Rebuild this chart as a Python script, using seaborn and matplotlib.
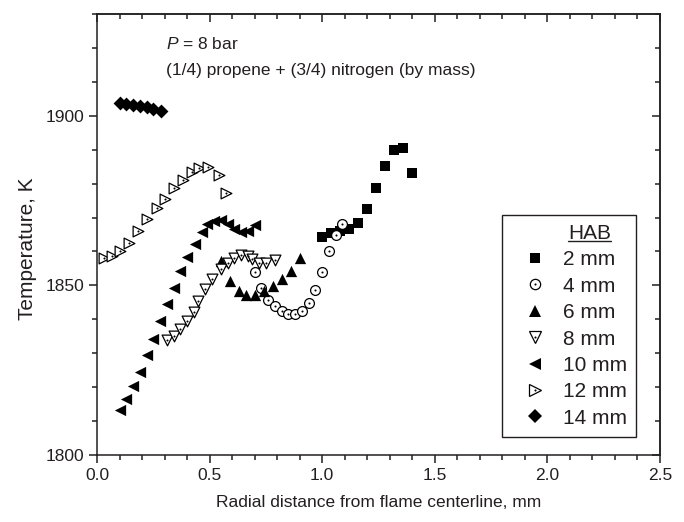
import numpy as np
import pandas as pd
import matplotlib
matplotlib.use("Agg")
import matplotlib.pyplot as plt
import seaborn as sns
from matplotlib.lines import Line2D
from matplotlib.legend_handler import HandlerTuple
from matplotlib.ticker import MultipleLocator, FormatStrFormatter

# ---------------- data ----------------
x_2mm = [1.00, 1.04, 1.08, 1.12, 1.16, 1.20, 1.24, 1.28, 1.32, 1.36, 1.40]
T_2mm = [1864.4, 1865.4, 1866.1, 1866.6, 1868.5, 1872.5, 1878.6, 1885.1, 1889.8, 1890.4, 1883.2]

x_4mm = [0.70, 0.73, 0.76, 0.79, 0.82, 0.85, 0.88, 0.91, 0.94, 0.97, 1.00, 1.03, 1.06, 1.09]
T_4mm = [1853.9, 1849.3, 1845.7, 1843.9, 1842.4, 1841.6, 1841.6, 1842.4, 1844.7, 1848.6,
         1853.9, 1860.1, 1864.9, 1868.0]

x_6mm = [0.55, 0.59, 0.63, 0.66, 0.70, 0.74, 0.78, 0.82, 0.86, 0.90]
T_6mm = [1857.2, 1851.3, 1848.3, 1847.3, 1847.3, 1848.3, 1849.8, 1851.8, 1854.2, 1858.2]

x_8mm = [0.31, 0.34, 0.37, 0.40, 0.43, 0.45, 0.48, 0.51, 0.55, 0.58, 0.61, 0.64, 0.67,
         0.69, 0.72, 0.75, 0.79]
T_8mm = [1834.0, 1835.0, 1837.0, 1839.4, 1842.1, 1845.4, 1848.8, 1852.0, 1854.7, 1856.7,
         1858.2, 1858.9, 1858.7, 1857.7, 1856.7, 1856.5, 1857.5]

x_10mm = [0.10, 0.13, 0.16, 0.19, 0.22, 0.25, 0.28, 0.31, 0.34, 0.37, 0.40, 0.435, 0.465,
          0.49, 0.52, 0.55, 0.58, 0.61, 0.64, 0.67, 0.70]
T_10mm = [1813.3, 1816.5, 1820.4, 1824.6, 1829.4, 1834.3, 1839.4, 1844.4, 1849.3, 1854.2,
          1858.5, 1862.3, 1865.6, 1868.0, 1869.0, 1869.3, 1868.0, 1866.6, 1865.6, 1866.1, 1867.8]

x_12mm = [0.03, 0.065, 0.10, 0.14, 0.18, 0.22, 0.265, 0.30, 0.34, 0.38, 0.42, 0.455, 0.495,
          0.54, 0.575]
T_12mm = [1858.2, 1858.7, 1860.1, 1862.6, 1866.1, 1869.5, 1872.7, 1875.6, 1878.6, 1881.2,
          1883.3, 1884.5, 1884.8, 1882.5, 1877.2]

x_14mm = [0.10, 0.13, 0.16, 0.19, 0.22, 0.25, 0.285]
T_14mm = [1903.8, 1903.6, 1903.3, 1902.9, 1902.6, 1902.1, 1901.3]

labels = ["2 mm", "4 mm", "6 mm", "8 mm", "10 mm", "12 mm", "14 mm"]
xs = [x_2mm, x_4mm, x_6mm, x_8mm, x_10mm, x_12mm, x_14mm]
Ts = [T_2mm, T_4mm, T_6mm, T_8mm, T_10mm, T_12mm, T_14mm]

x_major_ticks = [0.0, 0.5, 1.0, 1.5, 2.0, 2.5]
y_major_ticks = [1800, 1850, 1900]

# ---------------- style ----------------
sns.set_theme(style="ticks")
plt.rcParams["font.family"] = ["Liberation Sans", "DejaVu Sans"]
plt.rcParams["mathtext.fontset"] = "custom"
plt.rcParams["mathtext.rm"] = "Liberation Sans"
plt.rcParams["mathtext.it"] = "Liberation Sans:italic"
TXT = "#231f20"
FS = 12.5      # tick labels, x label, annotation
FS_BIG = 15    # y label and legend

markers = ["s", "o", "^", "v", "<", ">", "D"]
filled = [True, False, True, False, True, False, True]
sizes = [44, 50, 66, 60, 66, 60, 50]

fig = plt.figure(figsize=(6.84, 5.22), dpi=100)
ax = fig.add_axes([97 / 684, 1 - 455 / 522, 563 / 684, 441 / 522])

for lab, x, T, m, f, s in zip(labels, xs, Ts, markers, filled, sizes):
    df = pd.DataFrame({"r": x, "T": T})
    sns.scatterplot(data=df, x="r", y="T", ax=ax, marker=m, s=s,
                    color="black" if f else "white",
                    edgecolor="black", linewidth=0.9 if not f else 0.0,
                    zorder=3)
    if not f:
        sns.scatterplot(data=df, x="r", y="T", ax=ax, marker="o", s=2.2,
                        color="black", linewidth=0, zorder=4)

ax.set_xlim(0, 2.5)
ax.set_ylim(1800, 1930)
ax.xaxis.set_minor_locator(MultipleLocator(0.1))
ax.yaxis.set_minor_locator(MultipleLocator(10))
ax.set_xticks(x_major_ticks)
ax.set_yticks(y_major_ticks)
ax.xaxis.set_major_formatter(FormatStrFormatter("%.1f"))

for sp in ax.spines.values():
    sp.set_linewidth(1.1)
    sp.set_color(TXT)

ax.tick_params(which="major", direction="out", length=6, width=1.1, color=TXT,
               labelsize=FS, labelcolor=TXT, pad=3)
ax.tick_params(which="minor", direction="out", length=3.5, width=1.1, color=TXT)

# inward ticks on top and right
sec_x = ax.secondary_xaxis("top")
sec_x.set_xticks(x_major_ticks)
sec_x.xaxis.set_minor_locator(MultipleLocator(0.1))
sec_x.tick_params(which="major", direction="in", length=6, width=1.1, color=TXT, labeltop=False)
sec_x.tick_params(which="minor", direction="in", length=3.5, width=1.1, color=TXT)
sec_x.spines["top"].set_linewidth(1.1)
sec_y = ax.secondary_yaxis("right")
sec_y.set_yticks(y_major_ticks)
sec_y.yaxis.set_minor_locator(MultipleLocator(10))
sec_y.tick_params(which="major", direction="in", length=6, width=1.1, color=TXT, labelright=False)
sec_y.tick_params(which="minor", direction="in", length=3.5, width=1.1, color=TXT)
sec_y.spines["right"].set_linewidth(1.1)

ax.set_xlabel("Radial distance from flame centerline, mm", fontsize=FS, color=TXT)
ax.xaxis.set_label_coords(0.5, -0.09)
ax.set_ylabel("Temperature, K", fontsize=FS_BIG, color=TXT)
ax.yaxis.set_label_coords(-0.107, 0.468)

ax.text(0.306, 1921.3, "$P$ = 8 bar", fontsize=FS, color=TXT, va="center", ha="left")
ax.text(0.306, 1913.3, "(1/4) propene + (3/4) nitrogen (by mass)", fontsize=FS,
        color=TXT, va="center", ha="left")

# legend (open symbols carry a centre dot, as in the plot)
handles = []
for m, f, s in zip(markers, filled, sizes):
    base = Line2D([], [], linestyle="none", marker=m, markersize=np.sqrt(s) * 1.05,
                  markerfacecolor="black" if f else "white",
                  markeredgecolor="black", markeredgewidth=0.0 if f else 0.9)
    if f:
        handles.append(base)
    else:
        dot = Line2D([], [], linestyle="none", marker="o", markersize=1.5,
                     markerfacecolor="black", markeredgewidth=0)
        handles.append((base, dot))
leg = ax.legend(handles, labels, title="HAB", loc="upper left",
                bbox_to_anchor=(0.7194, 0.5442), borderaxespad=0, fontsize=FS_BIG,
                title_fontsize=FS_BIG, frameon=True, fancybox=False, framealpha=1,
                borderpad=0.43, handlelength=2.3, handletextpad=0.19, labelspacing=0.355,
                handler_map={tuple: HandlerTuple(ndivide=1, pad=0)})
leg.get_frame().set_edgecolor(TXT)
leg.get_frame().set_linewidth(1.0)
title = leg.get_title()
title.set_color(TXT)
title.set_x(21)   # header sits over the label column, as in the reference
for t in leg.get_texts():
    t.set_color(TXT)

# underline the legend header
fig.canvas.draw()
tb = title.get_window_extent()
base_y = title.get_transform().transform((title.get_position()[0], 0))[1]
W, H = fig.bbox.width, fig.bbox.height
uy = (base_y - 2.5) / H
fig.add_artist(Line2D([tb.x0 / W, tb.x1 / W], [uy, uy], color=TXT, linewidth=1.0,
                      transform=fig.transFigure))

fig.savefig("out.png", dpi=100)
